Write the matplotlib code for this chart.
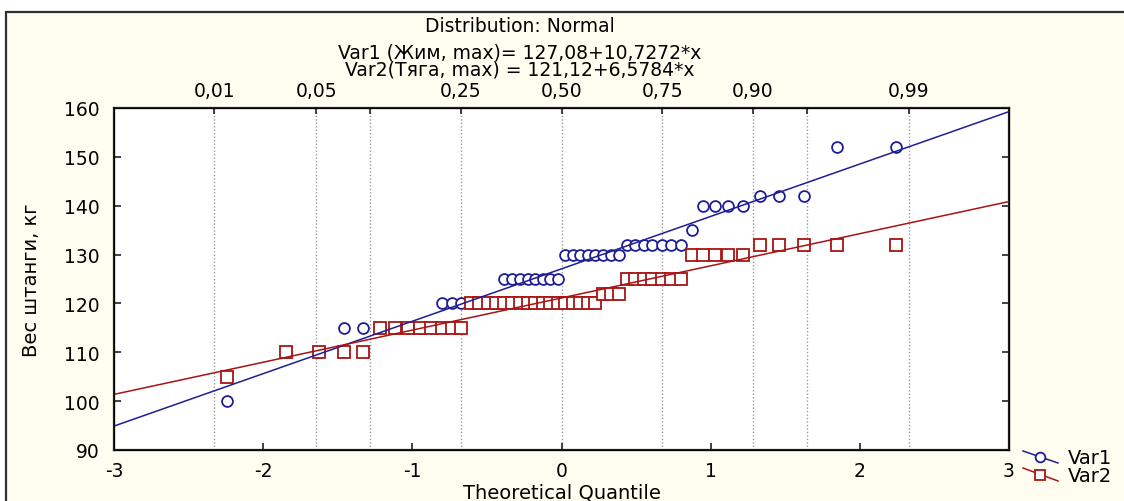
import matplotlib
matplotlib.use('Agg')
import matplotlib.pyplot as plt
from matplotlib.lines import Line2D
from matplotlib.patches import Rectangle
from statistics import NormalDist

# ranked observations, 50 per variable
var1 = [100, 110, 110, 115, 115, 115, 115, 115, 115, 115,
        120, 120, 120, 120, 120, 120, 120, 125, 125, 125,
        125, 125, 125, 125, 125, 130, 130, 130, 130, 130,
        130, 130, 130, 132, 132, 132, 132, 132, 132, 132,
        135, 140, 140, 140, 140, 142, 142, 142, 152, 152]
var2 = [105, 110, 110, 110, 110, 115, 115, 115, 115, 115,
        115, 115, 115, 120, 120, 120, 120, 120, 120, 120,
        120, 120, 120, 120, 120, 120, 120, 120, 120, 120,
        122, 122, 122, 125, 125, 125, 125, 125, 125, 125,
        130, 130, 130, 130, 130, 132, 132, 132, 132, 132]

# fitted lines: intercept, slope
fit1 = (127.08, 10.7272)
fit2 = (121.12, 6.5784)

probs = [0.01, 0.05, 0.10, 0.25, 0.50, 0.75, 0.90, 0.95, 0.99]
prob_labels = ['0,01', '0,05', '', '0,25', '0,50', '0,75', '0,90', '', '0,99']

W, H = 1124, 502


def fx(px):
    return px / W


def fy(py):
    return 1 - py / H


def blom_quantiles(n):
    nd = NormalDist()
    return [nd.inv_cdf((i - 0.375) / (n + 0.25)) for i in range(1, n + 1)]


def fmt(v, nd):
    return f'{v:.{nd}f}'.replace('.', ',')


q = blom_quantiles(len(var1))

fig = plt.figure(figsize=(W / 100, H / 100), dpi=100)
fig.patch.set_facecolor('white')
fig.patches.append(Rectangle((fx(6), -0.1), 1.2, fy(13) + 0.1, transform=fig.transFigure,
                             facecolor='#FFFCF0', edgecolor='#303030', lw=1.6, zorder=-5))

ax = fig.add_axes([fx(114), fy(451), fx(1009) - fx(114), fy(109) - fy(451)])
ax.set_zorder(2)
ax.set_facecolor('white')
ax.set_xlim(-3, 3)
ax.set_ylim(90, 160)

blue = '#1E1E96'
red = '#A81414'

qx = [NormalDist().inv_cdf(p) for p in probs]
for x in qx:
    ax.axvline(x, color='#9A9A9A', ls=(0, (1, 1.5)), lw=1, zorder=1)

ax.plot(q, var1, ls='none', marker='o', ms=7.8, mfc='white', mec=blue, mew=1.3, zorder=3)
ax.plot(q, var2, ls='none', marker='s', ms=8.3, mfc='white', mec=red, mew=1.3, zorder=4)

xs = [-3, 3]
ax.plot(xs, [fit1[0] + fit1[1] * x for x in xs], color=blue, lw=1.1, zorder=5)
ax.plot(xs, [fit2[0] + fit2[1] * x for x in xs], color=red, lw=1.1, zorder=6)

ax.set_xticks([-3, -2, -1, 0, 1, 2, 3])
ax.set_xticklabels(['-3', '-2', '-1', '0', '1', '2', '3'])
ax.set_yticks(range(90, 161, 10))
ax.tick_params(axis='both', direction='in', length=5, width=1.2, labelsize=13.5, pad=8,
               right=True, colors='#222222', labelcolor='black')
ax.tick_params(axis='y', pad=10)
for s in ax.spines.values():
    s.set_linewidth(1.6)
    s.set_color('#202020')

ax2 = ax.twiny()
ax2.set_xlim(-3, 3)
ax2.set_xticks(qx)
ax2.set_xticklabels(prob_labels)
ax2.tick_params(axis='x', direction='in', length=4, width=1.2, labelsize=13.5, pad=6,
                colors='#222222', labelcolor='black')

ax.set_xlabel('Theoretical Quantile', fontsize=14)
ax.xaxis.set_label_coords(0.5, -0.123)
ax.xaxis.label.set_va('center')
ax.set_ylabel('Вес штанги, кг', fontsize=14)
ax.yaxis.set_label_coords(-0.092, 0.5)
ax.yaxis.label.set_va('center')

fig.text(fx(520), fy(26), 'Distribution: Normal', ha='center', va='center', fontsize=13.5)
fig.text(fx(520), fy(53), f'Var1 (Жим, max)= {fmt(fit1[0], 2)}+{fmt(fit1[1], 4)}*x',
         ha='center', va='center', fontsize=13.5)
fig.text(fx(520), fy(70), f'Var2(Тяга, max) = {fmt(fit2[0], 2)}+{fmt(fit2[1], 4)}*x',
         ha='center', va='center', fontsize=13.5)

# legend drawn in figure space with slanted keys
for (y0, y1, mk, col, name) in [(452, 464, 'o', blue, 'Var1'), (469, 482, 's', red, 'Var2')]:
    fig.add_artist(Line2D([fx(1023), fx(1058)], [fy(y0), fy(y1)], color=col, lw=1.1,
                          transform=fig.transFigure))
    fig.add_artist(Line2D([fx(1040)], [fy((y0 + y1) / 2)], marker=mk, ms=7 if mk == 'o' else 7.5,
                          mfc='white', mec=col, mew=1.3, ls='none', transform=fig.transFigure))
    fig.text(fx(1068), fy((y0 + y1) / 2 + 1), name, ha='left', va='center', fontsize=14)

fig.savefig('out.png', dpi=100)
